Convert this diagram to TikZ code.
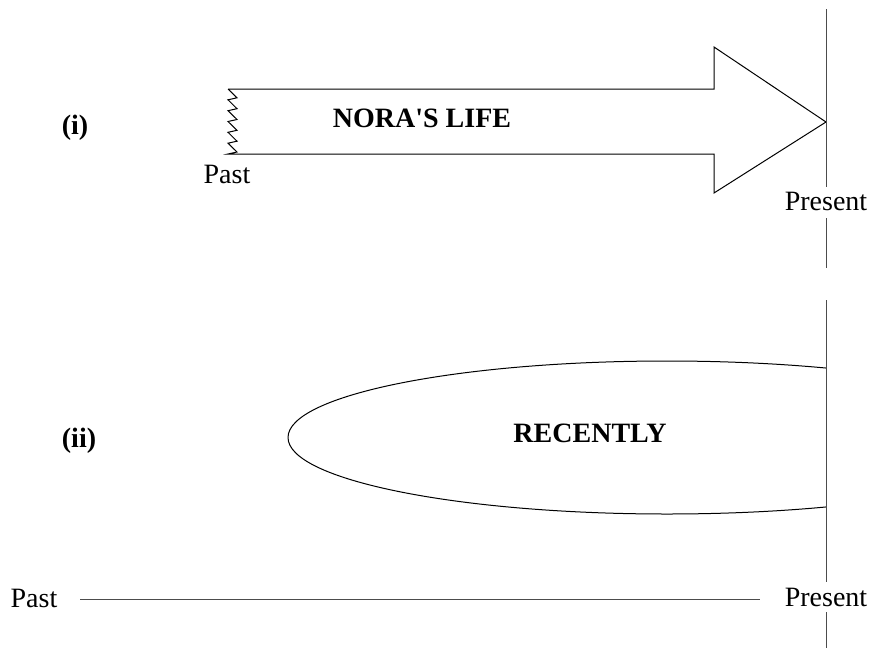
\documentclass[tikz,border=0pt]{standalone}
\usepackage{fontspec}
\setmainfont{Liberation Serif}
\begin{document}
\begin{tikzpicture}[x=1pt, y=-1pt, line width=1pt, line join=miter,
  lbl/.style={font=\fontsize{28}{30}\selectfont, inner sep=0pt, anchor=base},
  blbl/.style={lbl, font=\fontsize{28}{30}\selectfont\bfseries},
  timeline/.style={draw=black!70, line width=1pt}]
\useasboundingbox (0,0) rectangle (872,648);

% ---- (i) the block arrow of Nora's life, with a ragged start ----
\draw (228,89) -- (714,89) -- (714,47) -- (826,122) -- (714,193) -- (714,154) -- (228,154)
  -- (237,152) -- (228,143.2) -- (237,141.2) -- (228,132.3) -- (237,130.3) -- (228,121.5)
  -- (237,119.5) -- (228,110.7) -- (237,108.7) -- (228,99.8) -- (237,97.8) -- (228,89);

\node[blbl] (i) at (75,134) {(i)};
\node[blbl] (life) at (422,127) {NORA\textquotesingle S LIFE};
\node[lbl] (pastA) at (227,183) {Past};
\node[lbl] (presA) at (826,210) {Present};
\coordinate (topA) at (826,9);
\coordinate (botA) at (826,268);
\draw[timeline] (topA) -- (presA.north |- 0,187);
\draw[timeline] (presA.south |- 0,218) -- (botA);

% ---- (ii) the period "recently", cut off at the present ----
\begin{scope}
  \clip (0,300) rectangle (826,640);
  \draw (667,437.5) ellipse [x radius=379, y radius=76.5];
\end{scope}
\node[blbl] (ii) at (79,447) {(ii)};
\node[blbl] (recent) at (590,442) {RECENTLY};

% ---- time axis from past to present ----
\node[lbl] (pastB) at (34,607) {Past};
\node[lbl] (presB) at (826,606) {Present};
\coordinate (topB) at (826,300);
\coordinate (botB) at (826,648);
\draw[timeline] (topB) -- (presB.north |- 0,582);
\draw[timeline] (presB.south |- 0,612) -- (botB);
\draw[timeline] (80,599) -- (760,599);
\end{tikzpicture}
\end{document}
